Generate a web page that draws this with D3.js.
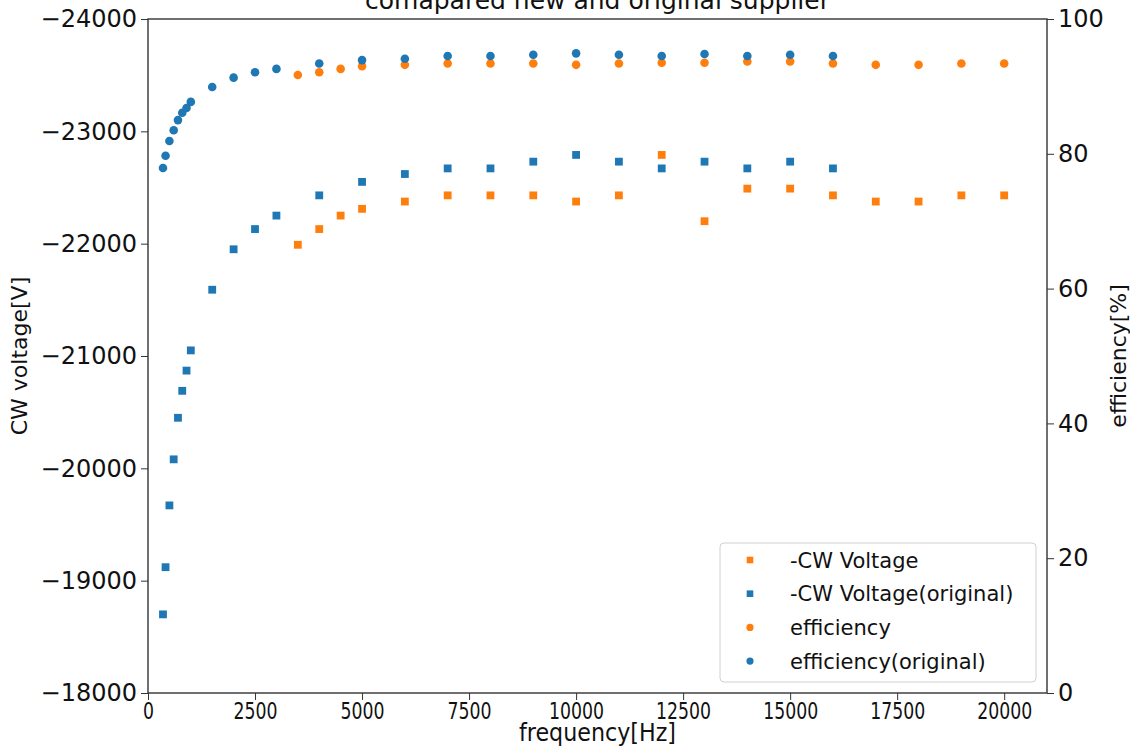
<!DOCTYPE html>
<html>
<head>
<meta charset="utf-8">
<script src="https://cdn.jsdelivr.net/npm/d3@7"></script>
<style>
  body { margin: 0; background: #fff; }
  text { font-family: "DejaVu Sans", sans-serif; fill: #111; }
</style>
</head>
<body>
<svg width="1130" height="748"></svg>
<script>
// data
var freqOrig = [350, 410, 500, 600, 700, 800, 900, 1000, 1500, 2000, 2500, 3000, 4000,
  5000, 6000, 7000, 8000, 9000, 10000, 11000, 12000, 13000, 14000, 15000, 16000];
var cwOrig = [-18700, -19120, -19670, -20080, -20450, -20690, -20870, -21050, -21590, -21950,
  -22130, -22250, -22430, -22550, -22620, -22670, -22670, -22730, -22790, -22730, -22670,
  -22730, -22670, -22730, -22670];
var effOrig = [77.9, 79.7, 81.9, 83.5, 85.0, 86.1, 86.8, 87.7, 89.9, 91.3, 92.1, 92.6, 93.4,
  93.9, 94.1, 94.5, 94.5, 94.7, 94.9, 94.7, 94.5, 94.8, 94.5, 94.7, 94.5];

var freqNew = [3500, 4000, 4500, 5000, 6000, 7000, 8000, 9000, 10000, 11000, 12000, 13000,
  14000, 15000, 16000, 17000, 18000, 19000, 20000];
var cwNew = [-21990, -22130, -22250, -22310, -22375, -22430, -22430, -22430, -22375, -22430,
  -22790, -22200, -22490, -22490, -22430, -22375, -22375, -22430, -22430];
var effNew = [91.7, 92.1, 92.6, 93.0, 93.2, 93.4, 93.4, 93.4, 93.2, 93.4, 93.5, 93.5, 93.7,
  93.7, 93.4, 93.2, 93.2, 93.4, 93.4];

var xTicks = [0, 2500, 5000, 7500, 10000, 12500, 15000, 17500, 20000];
var cwTicks = [-24000, -23000, -22000, -21000, -20000, -19000, -18000];
var effTicks = [0, 20, 40, 60, 80, 100];

var legendNames = ["-CW Voltage", "-CW Voltage(original)", "efficiency", "efficiency(original)"];

var orange = "#ff7f0e", blue = "#1f77b4";

var svg = d3.select("svg"),
    pL = 148, pR = 1047, pT = 19, pB = 693;

var x = d3.scaleLinear().domain([0, 21000]).range([pL, pR]);
var yCw = d3.scaleLinear().domain([-24000, -18000]).range([pT, pB]);
var yEff = d3.scaleLinear().domain([0, 100]).range([pB, pT]);

var minus = function(d) { return d < 0 ? "\u2212" + Math.abs(d) : "" + d; };

// axes
var gx = svg.append("g").attr("transform", "translate(0," + pB + ")")
  .call(d3.axisBottom(x).tickValues(xTicks).tickSize(7).tickPadding(3).tickFormat(d3.format("d")));
gx.selectAll("text")
  .style("font-size", "23px")
  .attr("textLength", function(d) { return String(d).length * 11; })
  .attr("lengthAdjust", "spacingAndGlyphs");

var gl = svg.append("g").attr("transform", "translate(" + pL + ",0)")
  .call(d3.axisLeft(yCw).tickValues(cwTicks).tickSize(7).tickPadding(4).tickFormat(minus));
gl.selectAll("text").style("font-size", "24px");

var gr = svg.append("g").attr("transform", "translate(" + pR + ",0)")
  .call(d3.axisRight(yEff).tickValues(effTicks).tickSize(7).tickPadding(4));
gr.selectAll("text").style("font-size", "24px");

svg.selectAll(".domain").remove();
svg.selectAll(".tick line").attr("stroke", "#333");

svg.append("rect")
  .attr("x", pL).attr("y", pT)
  .attr("width", pR - pL).attr("height", pB - pT)
  .attr("fill", "none").attr("stroke", "#333").attr("stroke-width", 1.4);

// labels
svg.append("text")
  .attr("x", (pL + pR) / 2).attr("y", 9)
  .attr("text-anchor", "middle").style("font-size", "25px")
  .text("comapared new and original supplier");

svg.append("text")
  .attr("x", (pL + pR) / 2).attr("y", 741)
  .attr("text-anchor", "middle").style("font-size", "24px")
  .attr("textLength", 157).attr("lengthAdjust", "spacingAndGlyphs")
  .text("frequency[Hz]");

svg.append("text")
  .attr("transform", "translate(27," + (pT + pB) / 2 + ") rotate(-90)")
  .attr("text-anchor", "middle").style("font-size", "22px")
  .text("CW voltage[V]");

svg.append("text")
  .attr("transform", "translate(1126," + (pT + pB) / 2 + ") rotate(-90)")
  .attr("text-anchor", "middle").style("font-size", "22px")
  .text("efficiency[%]");

// marks
var sq = 7.8, r = 4.3;

function squares(fx, fy, color) {
  svg.append("g").selectAll("rect")
    .data(d3.zip(fx, fy))
    .enter().append("rect")
      .attr("x", function(d) { return x(d[0]) - sq / 2; })
      .attr("y", function(d) { return yCw(d[1]) - sq / 2; })
      .attr("width", sq).attr("height", sq)
      .attr("fill", color);
}

function dots(fx, fy, color) {
  svg.append("g").selectAll("circle")
    .data(d3.zip(fx, fy))
    .enter().append("circle")
      .attr("cx", function(d) { return x(d[0]); })
      .attr("cy", function(d) { return yEff(d[1]); })
      .attr("r", r)
      .attr("fill", color);
}

squares(freqNew, cwNew, orange);
squares(freqOrig, cwOrig, blue);
dots(freqNew, effNew, orange);
dots(freqOrig, effOrig, blue);

// legend
var lg = svg.append("g");
lg.append("rect")
  .attr("x", 720).attr("y", 543).attr("width", 316).attr("height", 139)
  .attr("rx", 4).attr("fill", "#fff").attr("fill-opacity", 0.85)
  .attr("stroke", "#d0d0d0");

var legendColors = [orange, blue, orange, blue];
legendNames.forEach(function(name, i) {
  var cy = 560 + i * 33.7;
  if (i < 2) {
    lg.append("rect").attr("x", 750 - 3.3).attr("y", cy - 3.3)
      .attr("width", 6.6).attr("height", 6.6).attr("fill", legendColors[i]);
  } else {
    lg.append("circle").attr("cx", 750).attr("cy", cy).attr("r", 3.6).attr("fill", legendColors[i]);
  }
  lg.append("text").attr("x", 790).attr("y", cy + 7.5)
    .style("font-size", "21px").text(name);
});
</script>
</body>
</html>
